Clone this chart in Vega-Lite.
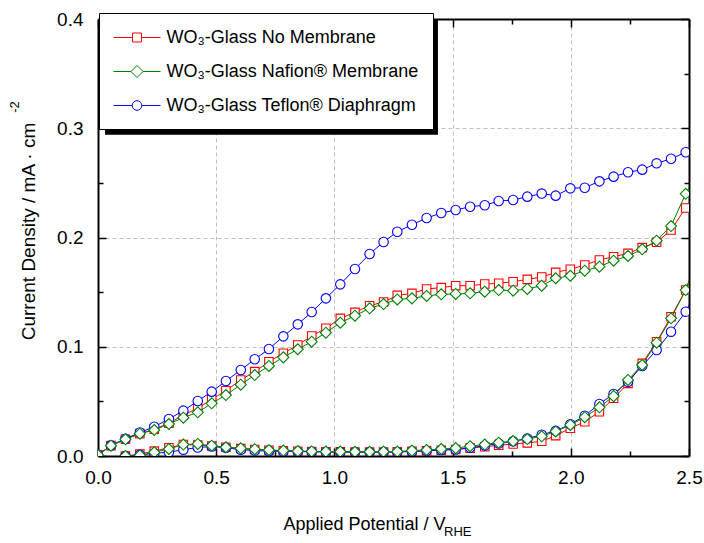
{
  "$schema": "https://vega.github.io/schema/vega-lite/v6.json",
  "width": 591,
  "height": 437,
  "autosize": {"type": "none"},
  "padding": {"left": 98, "top": 19, "right": 15, "bottom": 87},
  "background": "white",
  "config": {
    "view": {"stroke": null},
    "font": "Liberation Sans",
    "axis": {"labelFont": "Liberation Sans", "titleFont": "Liberation Sans"},
    "text": {"font": "Liberation Sans"}
  },
  "data": {"values": [
    {"s":"No","b":"L","x":0,"y":0.001},{"s":"No","b":"L","x":0.055,"y":0.0095},{"s":"No","b":"L","x":0.116,"y":0.0153},{"s":"No","b":"L","x":0.177,"y":0.0205},{"s":"No","b":"L","x":0.238,"y":0.0245},{"s":"No","b":"L","x":0.300,"y":0.0300},{"s":"No","b":"L","x":0.361,"y":0.0375},{"s":"No","b":"L","x":0.422,"y":0.0437},{"s":"No","b":"L","x":0.481,"y":0.0519},{"s":"No","b":"L","x":0.541,"y":0.0598},{"s":"No","b":"L","x":0.604,"y":0.0696},{"s":"No","b":"L","x":0.663,"y":0.0772},{"s":"No","b":"L","x":0.723,"y":0.0863},{"s":"No","b":"L","x":0.784,"y":0.0940},{"s":"No","b":"L","x":0.845,"y":0.1016},{"s":"No","b":"L","x":0.904,"y":0.1098},{"s":"No","b":"L","x":0.964,"y":0.1169},{"s":"No","b":"L","x":1.025,"y":0.1260},{"s":"No","b":"L","x":1.087,"y":0.1315},{"s":"No","b":"L","x":1.149,"y":0.1376},{"s":"No","b":"L","x":1.208,"y":0.1410},{"s":"No","b":"L","x":1.266,"y":0.1470},{"s":"No","b":"L","x":1.328,"y":0.1489},{"s":"No","b":"L","x":1.390,"y":0.1529},{"s":"No","b":"L","x":1.452,"y":0.1541},{"s":"No","b":"L","x":1.513,"y":0.1559},{"s":"No","b":"L","x":1.574,"y":0.1559},{"s":"No","b":"L","x":1.636,"y":0.1574},{"s":"No","b":"L","x":1.695,"y":0.1581},{"s":"No","b":"L","x":1.756,"y":0.1595},{"s":"No","b":"L","x":1.816,"y":0.1617},{"s":"No","b":"L","x":1.877,"y":0.1638},{"s":"No","b":"L","x":1.936,"y":0.1681},{"s":"No","b":"L","x":1.998,"y":0.1709},{"s":"No","b":"L","x":2.059,"y":0.1748},{"s":"No","b":"L","x":2.121,"y":0.1794},{"s":"No","b":"L","x":2.181,"y":0.1824},{"s":"No","b":"L","x":2.242,"y":0.1855},{"s":"No","b":"L","x":2.302,"y":0.1907},{"s":"No","b":"L","x":2.363,"y":0.1956},{"s":"No","b":"L","x":2.424,"y":0.2069},{"s":"No","b":"L","x":2.486,"y":0.2270},{"s":"No","b":"L","x":2.547,"y":0.2480},
    {"s":"Nafion","b":"L","x":0,"y":0.001},{"s":"Nafion","b":"L","x":0.055,"y":0.0094},{"s":"Nafion","b":"L","x":0.116,"y":0.0153},{"s":"Nafion","b":"L","x":0.177,"y":0.0204},{"s":"Nafion","b":"L","x":0.238,"y":0.0238},{"s":"Nafion","b":"L","x":0.300,"y":0.0293},{"s":"Nafion","b":"L","x":0.361,"y":0.0351},{"s":"Nafion","b":"L","x":0.422,"y":0.0400},{"s":"Nafion","b":"L","x":0.481,"y":0.0482},{"s":"Nafion","b":"L","x":0.541,"y":0.0558},{"s":"Nafion","b":"L","x":0.604,"y":0.0653},{"s":"Nafion","b":"L","x":0.663,"y":0.0741},{"s":"Nafion","b":"L","x":0.723,"y":0.0824},{"s":"Nafion","b":"L","x":0.784,"y":0.0903},{"s":"Nafion","b":"L","x":0.845,"y":0.0977},{"s":"Nafion","b":"L","x":0.904,"y":0.1046},{"s":"Nafion","b":"L","x":0.964,"y":0.1129},{"s":"Nafion","b":"L","x":1.025,"y":0.1220},{"s":"Nafion","b":"L","x":1.087,"y":0.1284},{"s":"Nafion","b":"L","x":1.149,"y":0.1352},{"s":"Nafion","b":"L","x":1.208,"y":0.1391},{"s":"Nafion","b":"L","x":1.266,"y":0.1433},{"s":"Nafion","b":"L","x":1.328,"y":0.1443},{"s":"Nafion","b":"L","x":1.390,"y":0.1465},{"s":"Nafion","b":"L","x":1.452,"y":0.1480},{"s":"Nafion","b":"L","x":1.513,"y":0.1483},{"s":"Nafion","b":"L","x":1.574,"y":0.1489},{"s":"Nafion","b":"L","x":1.636,"y":0.1504},{"s":"Nafion","b":"L","x":1.695,"y":0.1519},{"s":"Nafion","b":"L","x":1.756,"y":0.1513},{"s":"Nafion","b":"L","x":1.816,"y":0.1529},{"s":"Nafion","b":"L","x":1.877,"y":0.1559},{"s":"Nafion","b":"L","x":1.936,"y":0.1627},{"s":"Nafion","b":"L","x":1.998,"y":0.1650},{"s":"Nafion","b":"L","x":2.059,"y":0.1696},{"s":"Nafion","b":"L","x":2.121,"y":0.1733},{"s":"Nafion","b":"L","x":2.181,"y":0.1788},{"s":"Nafion","b":"L","x":2.242,"y":0.1831},{"s":"Nafion","b":"L","x":2.302,"y":0.1892},{"s":"Nafion","b":"L","x":2.363,"y":0.1971},{"s":"Nafion","b":"L","x":2.424,"y":0.2105},{"s":"Nafion","b":"L","x":2.486,"y":0.2400},{"s":"Nafion","b":"L","x":2.547,"y":0.2640},
    {"s":"Teflon","b":"L","x":0,"y":0.001},{"s":"Teflon","b":"L","x":0.055,"y":0.0097},{"s":"Teflon","b":"L","x":0.116,"y":0.0158},{"s":"Teflon","b":"L","x":0.177,"y":0.0215},{"s":"Teflon","b":"L","x":0.238,"y":0.0268},{"s":"Teflon","b":"L","x":0.300,"y":0.0339},{"s":"Teflon","b":"L","x":0.361,"y":0.0415},{"s":"Teflon","b":"L","x":0.422,"y":0.0503},{"s":"Teflon","b":"L","x":0.481,"y":0.0589},{"s":"Teflon","b":"L","x":0.541,"y":0.0686},{"s":"Teflon","b":"L","x":0.604,"y":0.0787},{"s":"Teflon","b":"L","x":0.663,"y":0.0885},{"s":"Teflon","b":"L","x":0.723,"y":0.0979},{"s":"Teflon","b":"L","x":0.784,"y":0.1095},{"s":"Teflon","b":"L","x":0.845,"y":0.1205},{"s":"Teflon","b":"L","x":0.904,"y":0.1318},{"s":"Teflon","b":"L","x":0.964,"y":0.1443},{"s":"Teflon","b":"L","x":1.025,"y":0.1571},{"s":"Teflon","b":"L","x":1.087,"y":0.1712},{"s":"Teflon","b":"L","x":1.149,"y":0.1849},{"s":"Teflon","b":"L","x":1.208,"y":0.1959},{"s":"Teflon","b":"L","x":1.266,"y":0.2053},{"s":"Teflon","b":"L","x":1.328,"y":0.2117},{"s":"Teflon","b":"L","x":1.390,"y":0.2178},{"s":"Teflon","b":"L","x":1.452,"y":0.2224},{"s":"Teflon","b":"L","x":1.513,"y":0.2252},{"s":"Teflon","b":"L","x":1.574,"y":0.2282},{"s":"Teflon","b":"L","x":1.636,"y":0.2295},{"s":"Teflon","b":"L","x":1.695,"y":0.2334},{"s":"Teflon","b":"L","x":1.756,"y":0.2343},{"s":"Teflon","b":"L","x":1.816,"y":0.2374},{"s":"Teflon","b":"L","x":1.877,"y":0.2402},{"s":"Teflon","b":"L","x":1.936,"y":0.2383},{"s":"Teflon","b":"L","x":1.998,"y":0.2450},{"s":"Teflon","b":"L","x":2.059,"y":0.2456},{"s":"Teflon","b":"L","x":2.121,"y":0.2514},{"s":"Teflon","b":"L","x":2.181,"y":0.2557},{"s":"Teflon","b":"L","x":2.242,"y":0.2597},{"s":"Teflon","b":"L","x":2.302,"y":0.2621},{"s":"Teflon","b":"L","x":2.363,"y":0.2679},{"s":"Teflon","b":"L","x":2.424,"y":0.2721},{"s":"Teflon","b":"L","x":2.486,"y":0.2780},{"s":"Teflon","b":"L","x":2.547,"y":0.2840},
    {"s":"No","b":"D","x":0.116,"y":0.0},{"s":"No","b":"D","x":0.177,"y":0.0017},{"s":"No","b":"D","x":0.238,"y":0.0045},{"s":"No","b":"D","x":0.300,"y":0.0075},{"s":"No","b":"D","x":0.361,"y":0.0105},{"s":"No","b":"D","x":0.422,"y":0.0100},{"s":"No","b":"D","x":0.481,"y":0.0092},{"s":"No","b":"D","x":0.541,"y":0.0080},{"s":"No","b":"D","x":0.604,"y":0.0068},{"s":"No","b":"D","x":0.663,"y":0.0060},{"s":"No","b":"D","x":0.723,"y":0.0053},{"s":"No","b":"D","x":0.784,"y":0.0048},{"s":"No","b":"D","x":0.845,"y":0.0044},{"s":"No","b":"D","x":0.904,"y":0.0041},{"s":"No","b":"D","x":0.964,"y":0.0039},{"s":"No","b":"D","x":1.025,"y":0.0038},{"s":"No","b":"D","x":1.087,"y":0.0037},{"s":"No","b":"D","x":1.149,"y":0.0037},{"s":"No","b":"D","x":1.208,"y":0.0037},{"s":"No","b":"D","x":1.266,"y":0.0038},{"s":"No","b":"D","x":1.328,"y":0.0042},{"s":"No","b":"D","x":1.390,"y":0.0047},{"s":"No","b":"D","x":1.452,"y":0.0053},{"s":"No","b":"D","x":1.513,"y":0.0060},{"s":"No","b":"D","x":1.574,"y":0.0072},{"s":"No","b":"D","x":1.636,"y":0.0085},{"s":"No","b":"D","x":1.695,"y":0.0098},{"s":"No","b":"D","x":1.756,"y":0.0110},{"s":"No","b":"D","x":1.816,"y":0.0120},{"s":"No","b":"D","x":1.877,"y":0.0135},{"s":"No","b":"D","x":1.936,"y":0.0186},{"s":"No","b":"D","x":1.998,"y":0.0254},{"s":"No","b":"D","x":2.059,"y":0.0314},{"s":"No","b":"D","x":2.121,"y":0.0405},{"s":"No","b":"D","x":2.181,"y":0.0528},{"s":"No","b":"D","x":2.242,"y":0.0665},{"s":"No","b":"D","x":2.302,"y":0.0848},{"s":"No","b":"D","x":2.363,"y":0.1046},{"s":"No","b":"D","x":2.424,"y":0.1275},{"s":"No","b":"D","x":2.486,"y":0.1519},{"s":"No","b":"D","x":2.547,"y":0.1900},
    {"s":"Nafion","b":"D","x":0.116,"y":0.0},{"s":"Nafion","b":"D","x":0.177,"y":0.0005},{"s":"Nafion","b":"D","x":0.238,"y":0.0034},{"s":"Nafion","b":"D","x":0.300,"y":0.0064},{"s":"Nafion","b":"D","x":0.361,"y":0.0105},{"s":"Nafion","b":"D","x":0.422,"y":0.0110},{"s":"Nafion","b":"D","x":0.481,"y":0.0094},{"s":"Nafion","b":"D","x":0.541,"y":0.0080},{"s":"Nafion","b":"D","x":0.604,"y":0.0070},{"s":"Nafion","b":"D","x":0.663,"y":0.0062},{"s":"Nafion","b":"D","x":0.723,"y":0.0055},{"s":"Nafion","b":"D","x":0.784,"y":0.0050},{"s":"Nafion","b":"D","x":0.845,"y":0.0045},{"s":"Nafion","b":"D","x":0.904,"y":0.0042},{"s":"Nafion","b":"D","x":0.964,"y":0.0040},{"s":"Nafion","b":"D","x":1.025,"y":0.0040},{"s":"Nafion","b":"D","x":1.087,"y":0.0039},{"s":"Nafion","b":"D","x":1.149,"y":0.0039},{"s":"Nafion","b":"D","x":1.208,"y":0.0040},{"s":"Nafion","b":"D","x":1.266,"y":0.0041},{"s":"Nafion","b":"D","x":1.328,"y":0.0049},{"s":"Nafion","b":"D","x":1.390,"y":0.0055},{"s":"Nafion","b":"D","x":1.452,"y":0.0064},{"s":"Nafion","b":"D","x":1.513,"y":0.0072},{"s":"Nafion","b":"D","x":1.574,"y":0.0090},{"s":"Nafion","b":"D","x":1.636,"y":0.0105},{"s":"Nafion","b":"D","x":1.695,"y":0.0122},{"s":"Nafion","b":"D","x":1.756,"y":0.0137},{"s":"Nafion","b":"D","x":1.816,"y":0.0155},{"s":"Nafion","b":"D","x":1.877,"y":0.0180},{"s":"Nafion","b":"D","x":1.936,"y":0.0225},{"s":"Nafion","b":"D","x":1.998,"y":0.0284},{"s":"Nafion","b":"D","x":2.059,"y":0.0355},{"s":"Nafion","b":"D","x":2.121,"y":0.0446},{"s":"Nafion","b":"D","x":2.181,"y":0.0548},{"s":"Nafion","b":"D","x":2.242,"y":0.0696},{"s":"Nafion","b":"D","x":2.302,"y":0.0833},{"s":"Nafion","b":"D","x":2.363,"y":0.1037},{"s":"Nafion","b":"D","x":2.424,"y":0.1260},{"s":"Nafion","b":"D","x":2.486,"y":0.1519},{"s":"Nafion","b":"D","x":2.547,"y":0.1850},
    {"s":"Teflon","b":"D","x":0.116,"y":0.0},{"s":"Teflon","b":"D","x":0.177,"y":0.0010},{"s":"Teflon","b":"D","x":0.238,"y":0.0025},{"s":"Teflon","b":"D","x":0.300,"y":0.0035},{"s":"Teflon","b":"D","x":0.361,"y":0.0058},{"s":"Teflon","b":"D","x":0.422,"y":0.0078},{"s":"Teflon","b":"D","x":0.481,"y":0.0087},{"s":"Teflon","b":"D","x":0.541,"y":0.0075},{"s":"Teflon","b":"D","x":0.604,"y":0.0058},{"s":"Teflon","b":"D","x":0.663,"y":0.0050},{"s":"Teflon","b":"D","x":0.723,"y":0.0045},{"s":"Teflon","b":"D","x":0.784,"y":0.0042},{"s":"Teflon","b":"D","x":0.845,"y":0.0040},{"s":"Teflon","b":"D","x":0.904,"y":0.0038},{"s":"Teflon","b":"D","x":0.964,"y":0.0037},{"s":"Teflon","b":"D","x":1.025,"y":0.0036},{"s":"Teflon","b":"D","x":1.087,"y":0.0036},{"s":"Teflon","b":"D","x":1.149,"y":0.0036},{"s":"Teflon","b":"D","x":1.208,"y":0.0036},{"s":"Teflon","b":"D","x":1.266,"y":0.0037},{"s":"Teflon","b":"D","x":1.328,"y":0.0042},{"s":"Teflon","b":"D","x":1.390,"y":0.0048},{"s":"Teflon","b":"D","x":1.452,"y":0.0055},{"s":"Teflon","b":"D","x":1.513,"y":0.0060},{"s":"Teflon","b":"D","x":1.574,"y":0.0075},{"s":"Teflon","b":"D","x":1.636,"y":0.0095},{"s":"Teflon","b":"D","x":1.695,"y":0.0115},{"s":"Teflon","b":"D","x":1.756,"y":0.0135},{"s":"Teflon","b":"D","x":1.816,"y":0.0160},{"s":"Teflon","b":"D","x":1.877,"y":0.0195},{"s":"Teflon","b":"D","x":1.936,"y":0.0230},{"s":"Teflon","b":"D","x":1.998,"y":0.0290},{"s":"Teflon","b":"D","x":2.059,"y":0.0369},{"s":"Teflon","b":"D","x":2.121,"y":0.0476},{"s":"Teflon","b":"D","x":2.181,"y":0.0568},{"s":"Teflon","b":"D","x":2.242,"y":0.0680},{"s":"Teflon","b":"D","x":2.302,"y":0.0824},{"s":"Teflon","b":"D","x":2.363,"y":0.0970},{"s":"Teflon","b":"D","x":2.424,"y":0.1138},{"s":"Teflon","b":"D","x":2.486,"y":0.1321},{"s":"Teflon","b":"D","x":2.547,"y":0.1580}
  ]},
  "resolve": {"axis": {"x": "independent", "y": "independent"}},
  "layer": [
    {
      "data": {"values": [{}]},
      "mark": {"type": "rect", "color": "black"},
      "encoding": {
        "x": {"datum": 0.03, "type": "quantitative",
          "scale": {"domain": [0, 2.5], "nice": false, "zero": false},
          "axis": {"orient": "top", "values": [0,0.25,0.5,0.75,1,1.25,1.5,1.75,2,2.25,2.5], "labels": false, "title": null, "grid": false,
            "domainColor": "black", "domainWidth": 2, "tickColor": "black", "tickWidth": 1.5,
            "tickSize": {"condition": {"test": "datum.value % 0.5 === 0", "value": -8}, "value": -5}}},
        "x2": {"datum": 1.438},
        "y": {"datum": 0.4, "type": "quantitative",
          "scale": {"domain": [0, 0.4], "nice": false, "zero": false},
          "axis": {"orient": "right", "values": [0,0.05,0.1,0.15,0.2,0.25,0.3,0.35,0.4], "labels": false, "title": null, "grid": false,
            "domainColor": "black", "domainWidth": 2, "tickColor": "black", "tickWidth": 1.5,
            "tickSize": {"condition": {"test": "abs(datum.value*10 - round(datum.value*10)) < 0.001", "value": -8}, "value": -5}}},
        "y2": {"datum": 0.294}
      }
    },
    {
      "transform": [{"filter": "datum.s == 'No'"}],
      "mark": {"type": "line", "color": "#ff0000", "strokeWidth": 1, "clip": true},
      "encoding": {
        "x": {"field": "x", "type": "quantitative",
          "axis": {"orient": "bottom", "values": [0,0.25,0.5,0.75,1,1.25,1.5,1.75,2,2.25,2.5],
            "labelExpr": "datum.value % 0.5 === 0 ? format(datum.value, '.1f') : ''",
            "labelFontSize": 19, "labelColor": "black", "labelPadding": 20, "labelFlush": false, "labelOverlap": false,
            "title": "Applied Potential / V", "titleFontSize": 18, "titleFontWeight": "normal", "titleColor": "black",
            "titleX": 266, "titleY": 73, "titleAlign": "center", "titleBaseline": "alphabetic",
            "domainColor": "black", "domainWidth": 2, "tickColor": "black", "tickWidth": 1.5,
            "tickSize": {"condition": {"test": "datum.value % 0.5 === 0", "value": -8}, "value": -5},
            "grid": true, "gridColor": "#c0c0c0", "gridDash": [4, 3], "gridWidth": 1,
            "gridOpacity": {"condition": {"test": "datum.value % 0.5 === 0 && datum.value > 0 && datum.value < 2.5", "value": 1}, "value": 0}}},
        "y": {"field": "y", "type": "quantitative",
          "axis": {"orient": "left", "values": [0,0.05,0.1,0.15,0.2,0.25,0.3,0.35,0.4],
            "labelExpr": "abs(datum.value*10 - round(datum.value*10)) < 0.001 ? format(datum.value, '.1f') : ''",
            "labelFontSize": 19, "labelColor": "black", "labelPadding": 23, "labelFlush": false, "labelOverlap": false,
            "title": "Current Density / mA · cm", "titleFontSize": 19, "titleFontWeight": "normal", "titleColor": "black",
            "titleX": -70, "titleY": 212, "titleAngle": 270, "titleAlign": "center", "titleBaseline": "middle",
            "domainColor": "black", "domainWidth": 2, "tickColor": "black", "tickWidth": 1.5,
            "tickSize": {"condition": {"test": "abs(datum.value*10 - round(datum.value*10)) < 0.001", "value": -8}, "value": -5},
            "grid": true, "gridColor": "#c0c0c0", "gridDash": [4, 3], "gridWidth": 1,
            "gridOpacity": {"condition": {"test": "abs(datum.value*10 - round(datum.value*10)) < 0.001 && datum.value > 0.01 && datum.value < 0.39", "value": 1}, "value": 0}}},
        "detail": {"field": "b"}
      }
    },
    {
      "transform": [{"filter": "datum.s == 'No'"}],
      "mark": {"type": "point", "shape": "square", "size": 72, "filled": true, "fill": "white", "stroke": "#ff0000", "strokeWidth": 1.1, "opacity": 1, "clip": true},
      "encoding": {"x": {"field": "x", "type": "quantitative", "axis": null}, "y": {"field": "y", "type": "quantitative", "axis": null}}
    },
    {
      "transform": [{"filter": "datum.s == 'Teflon'"}],
      "mark": {"type": "line", "color": "#0000ff", "strokeWidth": 1, "clip": true},
      "encoding": {"x": {"field": "x", "type": "quantitative", "axis": null}, "y": {"field": "y", "type": "quantitative", "axis": null}, "detail": {"field": "b"}}
    },
    {
      "transform": [{"filter": "datum.s == 'Teflon'"}],
      "mark": {"type": "point", "shape": "circle", "size": 90, "filled": true, "fill": "white", "stroke": "#0000ff", "strokeWidth": 1.1, "opacity": 1, "clip": true},
      "encoding": {"x": {"field": "x", "type": "quantitative", "axis": null}, "y": {"field": "y", "type": "quantitative", "axis": null}}
    },
    {
      "transform": [{"filter": "datum.s == 'Nafion'"}],
      "mark": {"type": "line", "color": "#008000", "strokeWidth": 1, "clip": true},
      "encoding": {"x": {"field": "x", "type": "quantitative", "axis": null}, "y": {"field": "y", "type": "quantitative", "axis": null}, "detail": {"field": "b"}}
    },
    {
      "transform": [{"filter": "datum.s == 'Nafion'"}],
      "mark": {"type": "point", "shape": "diamond", "size": 121, "filled": true, "fill": "white", "stroke": "#008000", "strokeWidth": 1.1, "opacity": 1, "clip": true},
      "encoding": {"x": {"field": "x", "type": "quantitative", "axis": null}, "y": {"field": "y", "type": "quantitative", "axis": null}}
    },
    {
      "transform": [{"filter": "datum.b == 'L' && datum.x < 0.01"}],
      "mark": {"type": "point", "filled": false, "opacity": 0, "strokeWidth": 1},
      "encoding": {
        "x": {"field": "x", "type": "quantitative", "axis": null},
        "y": {"field": "y", "type": "quantitative", "axis": null},
        "color": {"field": "s", "type": "nominal",
          "scale": {"domain": ["No", "Nafion", "Teflon"], "range": ["#ff0000", "#008000", "#0000ff"]},
          "legend": {"orient": "none", "legendX": 1, "legendY": -6, "title": null, "fillColor": "white", "strokeColor": "black",
            "padding": 14, "symbolSize": 400, "symbolOffset": 13.5, "labelOffset": 19, "rowPadding": 14,
            "labelFont": "Liberation Sans", "labelFontSize": 18, "labelColor": "black", "labelLimit": 500,
            "symbolOpacity": 1, "symbolStrokeWidth": 1, "symbolFillColor": "white",
            "labelExpr": "datum.label == 'No' ? 'WO₃-Glass No Membrane' : datum.label == 'Nafion' ? 'WO₃-Glass Nafion® Membrane' : 'WO₃-Glass Teflon® Diaphragm'"}},
        "shape": {"field": "s", "type": "nominal",
          "scale": {"domain": ["No", "Nafion", "Teflon"], "range": [
            "M-2.35,0H-0.45M0.45,0H2.35M-0.45,-0.45H0.45V0.45H-0.45Z",
            "M-2.35,0H-0.6M0.6,0H2.35M-0.6,0L0,-0.6L0.6,0L0,0.6Z",
            "M-2.35,0H-0.48M0.48,0H2.35M-0.48,0A0.48,0.48 0 1,0 0.48,0A0.48,0.48 0 1,0 -0.48,0Z"]},
          "legend": {"orient": "none", "legendX": 1, "legendY": -6, "title": null, "fillColor": "white", "strokeColor": "black",
            "padding": 14, "symbolSize": 400, "symbolOffset": 13.5, "labelOffset": 19, "rowPadding": 14,
            "labelFont": "Liberation Sans", "labelFontSize": 18, "labelColor": "black", "labelLimit": 500,
            "symbolOpacity": 1, "symbolStrokeWidth": 1, "symbolFillColor": "white",
            "labelExpr": "datum.label == 'No' ? 'WO₃-Glass No Membrane' : datum.label == 'Nafion' ? 'WO₃-Glass Nafion® Membrane' : 'WO₃-Glass Teflon® Diaphragm'"}}
      }
    },
    {
      "data": {"values": [{}]},
      "mark": {"type": "text", "text": "RHE", "fontSize": 13, "align": "left", "baseline": "middle", "color": "black", "font": "Liberation Sans"},
      "encoding": {"x": {"datum": 1.464, "type": "quantitative", "axis": null}, "y": {"datum": -0.0696, "type": "quantitative", "axis": null}}
    },
    {
      "data": {"values": [{}]},
      "mark": {"type": "text", "text": "-2", "fontSize": 13, "align": "center", "baseline": "middle", "angle": 270, "color": "black", "font": "Liberation Sans"},
      "encoding": {"x": {"datum": -0.351, "type": "quantitative", "axis": null}, "y": {"datum": 0.3195, "type": "quantitative", "axis": null}}
    }
  ]
}
